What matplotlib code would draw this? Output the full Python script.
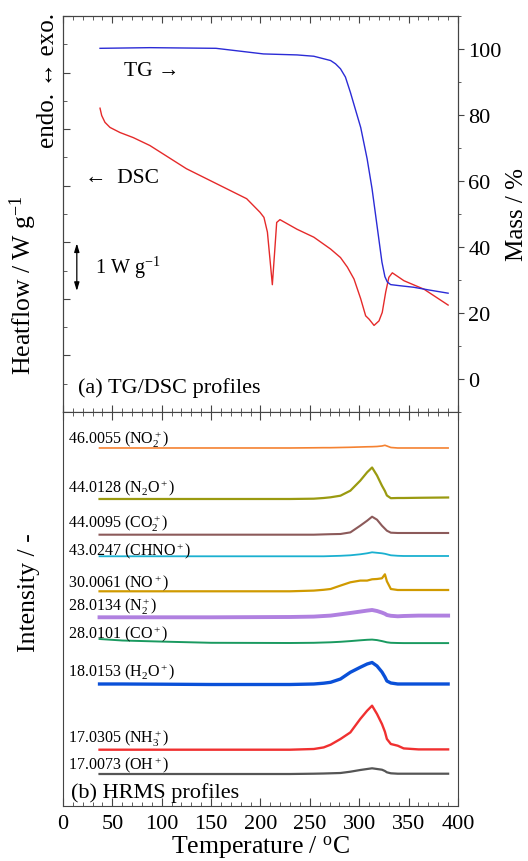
import numpy as np
import matplotlib
matplotlib.use('Agg')
import matplotlib.pyplot as plt
from matplotlib.ticker import MultipleLocator, NullLocator

plt.rcParams['font.family'] = ['Liberation Serif', 'DejaVu Serif']
plt.rcParams['mathtext.fontset'] = 'custom'
plt.rcParams['mathtext.rm'] = 'Liberation Serif'
plt.rcParams['mathtext.it'] = 'Liberation Serif:italic'
plt.rcParams['mathtext.bf'] = 'Liberation Serif:bold'

# TG curve (mass %)
T_tg = [37.5, 88, 155, 203, 237, 254, 271, 276, 281, 286, 291, 296, 301.5, 308, 313,
        318, 323, 326, 328.4, 331.8, 340, 355, 370, 390]
mass = [100.2, 100.4, 100.2, 98.5, 98.2, 97.8, 96.5, 95.5, 94, 91.5, 86.9, 81.8, 76.2, 66.7, 57.6,
        46.5, 35.4, 31.0, 29.4, 28.6, 28.3, 27.8, 27.0, 26.0]

# DSC curve (W/g, arbitrary offset)
T_dsc = [37.5, 39.2, 42.5, 47.6, 57.7, 71.2, 88, 125, 186, 199.5, 203.5, 207, 209.6, 212, 214.3, 216.4, 219.7,
         237, 254, 271, 281, 288, 294.7, 301.5, 306.5, 310, 315, 320, 323.3, 326.8, 330, 333.5,
         345.3, 365.6, 390]
heatflow = [0.37, 0.24, 0.12, 0.03, -0.06, -0.15, -0.29, -0.70, -1.23, -1.47, -1.56, -1.82, -2.30, -2.75, -2.18, -1.65, -1.60,
            -1.77, -1.91, -2.12, -2.27, -2.44, -2.65, -3.0, -3.30, -3.36, -3.47, -3.39, -3.24, -2.88, -2.62, -2.54,
            -2.68, -2.83, -3.11]

# HRMS profiles
T_ms = [37, 60, 100, 150, 230, 254, 264, 271, 281, 291, 301, 308, 313, 318, 323, 326, 328, 332, 339, 345, 360, 390]
no2 = [0, 0, 0, 0, 0, 0.2, 0.3, 0.3, 0.5, 0.7, 1.0, 1.2, 1.3, 1.5, 2.0, 2.7, 2.0, 0.5, 0, 0, 0, 0]
n2o = [0, 0, 0, 0, 0, 0.3, 1, 1.7, 3.3, 8.3, 18.3, 26.7, 31.5, 23.5, 13.3, 8, 3.5, 0.8, 1, 1, 1.2, 1.5]
co2 = [0, 0, 0, 0, 0, 0, 0.3, 0.5, 0.7, 2.3, 9, 14, 18, 15, 9, 6, 4, 2, 1.7, 1.7, 1.7, 1.7]
chno = [0, 0, 0, 0, 0, 0, 0, 0.2, 0.5, 1, 2, 3, 4, 3.5, 3, 2.5, 2, 1, 0.5, 0.3, 0.3, 0.3]
no = [0, 0, 0, 0, 0, 0.7, 1.5, 2.3, 5.7, 9, 10.7, 10.7, 12, 12.3, 13, 17, 10, 2.3, 1.3, 1.3, 1.3, 1.3]
n2 = [0, 0, 0, 0, 0.3, 0.7, 1.3, 1.7, 3, 4.3, 5.7, 6.7, 7.3, 6.3, 4.7, 3.5, 2.3, 1.5, 1, 1.3, 1.7, 1.7]
co = [4.3, 2.8, 1.7, 0.5, 0.3, 0.5, 0.8, 1, 1.5, 2.2, 3, 3.5, 3.7, 3.2, 2.2, 1.5, 1, 0.5, 0.3, 0.2, 0.2, 0.2]
h2o = [1, 1, 0.8, 0.5, 0.5, 1, 1.8, 2.7, 6, 12.7, 17.7, 21, 22.5, 19, 13, 8, 4, 2, 1, 1, 1, 1]
nh3 = [0, 0, 0, 0, 0, 0.7, 2.3, 5, 10.7, 17.3, 30.7, 39, 44, 35.7, 25.7, 18, 10.7, 5.7, 4, 1.3, 0.3, 0.3]
oh = [0, 0, 0, 0, 0, 0.3, 0.5, 0.7, 1, 2.3, 4, 5, 5.7, 5, 4.3, 3, 1.7, 0.7, 0.3, 0.3, 0.3, 0.3]

ms_labels = ['46.0055 (NO$_2^+$)', '44.0128 (N$_2$O$^+$)', '44.0095 (CO$_2^+$)', '43.0247 (CHNO$^+$)',
             '30.0061 (NO$^+$)', '28.0134 (N$_2^+$)', '28.0101 (CO$^+$)', '18.0153 (H$_2$O$^+$)',
             '17.0305 (NH$_3^+$)', '17.0073 (OH$^+$)']
ms_offset = [358, 307, 271.3, 249.7, 214.7, 188.7, 162.7, 121, 56.3, 32]

ms_data = [no2, n2o, co2, chno, no, n2, co, h2o, nh3, oh]
ms_colors = ['#f58231', '#9a9a10', '#8c5a5a', '#1ab0d0', '#d09a00', '#b080e0', '#1a9a60', '#0a50d8', '#f03030', '#555555']
ms_lw = [1.2, 1.6, 1.5, 1.3, 1.6, 2.8, 1.4, 2.4, 1.7, 1.6]
label_gap = [5, 8, 7.4, 2.3, 5, 7.6, 6, 9.3, 7.4, 5.7]

spine_c = '#444444'

fig = plt.figure(figsize=(5.28, 8.62), dpi=100)

# ---- (a) TG/DSC ----
ax1 = fig.add_axes([0.1193, 0.5209, 0.7481, 0.4594])
ax2 = ax1.twinx()
ax1.plot(T_dsc, heatflow, color='#e52a2a', lw=1.0)
ax2.plot(T_tg, mass, color='#2b2bd6', lw=1.0)
ax1.set_xlim(0, 400)
ax1.set_ylim(-5, 2)
ax2.set_ylim(-10, 110)

ax1.xaxis.set_major_locator(MultipleLocator(50))
ax1.xaxis.set_minor_locator(MultipleLocator(10))
ax1.yaxis.set_major_locator(MultipleLocator(1))
ax1.yaxis.set_minor_locator(MultipleLocator(0.5))
ax1.tick_params(axis='x', which='both', direction='in', top=True, bottom=True, labelbottom=False)
ax1.tick_params(axis='y', which='both', direction='in', labelleft=False)
ax1.tick_params(which='major', length=5, color=spine_c)
ax1.tick_params(which='minor', length=3, color=spine_c)

ax2.yaxis.set_major_locator(MultipleLocator(20))
ax2.yaxis.set_minor_locator(MultipleLocator(10))
ax2.set_yticks([0, 20, 40, 60, 80, 100])
ax2.tick_params(axis='y', which='major', direction='out', length=4, labelsize=16, color=spine_c)
ax2.tick_params(axis='y', which='minor', direction='out', length=2.5, color=spine_c)
ax2.set_ylabel('Mass / %', fontsize=18)
ax2.yaxis.set_label_coords(1.122, 0.5)

ax1.set_ylabel('Heatflow / W g$^{-1}$', fontsize=18.5)
ax1.yaxis.set_label_coords(-0.06, 0.323)
ax1.text(-0.038, 0.84, 'endo. \u2194 exo.', rotation=90, transform=ax1.transAxes,
         ha='center', va='center', fontsize=18)

ax1.text(62, 1.03, 'TG \u2192', fontsize=15.5, va='center')
ax1.text(22, -0.85, '\u2190  DSC', fontsize=15.5, va='center')
ax1.annotate('', xy=(14, -1.97), xytext=(14, -2.91),
             arrowprops=dict(arrowstyle='<|-|>,head_length=0.5,head_width=0.15', color='black', lw=0.9))
ax1.text(32, -2.44, '1 W g$^{-1}$', fontsize=14.5, va='center')
ax1.text(15, -4.56, '(a) TG/DSC profiles', fontsize=16, va='center')

for ax in (ax1, ax2):
    for s in ax.spines.values():
        s.set_color(spine_c)

# ---- (b) HRMS ----
ax3 = fig.add_axes([0.1193, 0.0638, 0.7481, 0.4571])
for sig, base, col, lw, lab, gap in zip(ms_data, ms_offset, ms_colors, ms_lw, ms_labels, label_gap):
    ax3.plot(T_ms, np.array(sig) + base, color=col, lw=lw)
    ax3.text(5, base + gap, lab, fontsize=11.5, va='baseline', ha='left')

ax3.set_xlim(0, 400)
ax3.set_ylim(0, 394)
ax3.yaxis.set_major_locator(NullLocator())
ax3.xaxis.set_major_locator(MultipleLocator(50))
ax3.xaxis.set_minor_locator(MultipleLocator(10))
ax3.tick_params(axis='x', which='both', direction='in', top=True, bottom=True, labelsize=16, color=spine_c)
ax3.tick_params(axis='x', which='major', length=6, pad=6)
ax3.tick_params(axis='x', which='minor', length=3)
ax3.set_xlabel('Temperature / $^{\\rm o}$C', fontsize=18.5, labelpad=0)
ax3.set_ylabel('Intensity / -', fontsize=18.5)
ax3.yaxis.set_label_coords(-0.058, 0.543)
ax3.text(8, 14, '(b) HRMS profiles', fontsize=16, va='center')
for s in ax3.spines.values():
    s.set_color(spine_c)

fig.savefig('out.png', dpi=100)
